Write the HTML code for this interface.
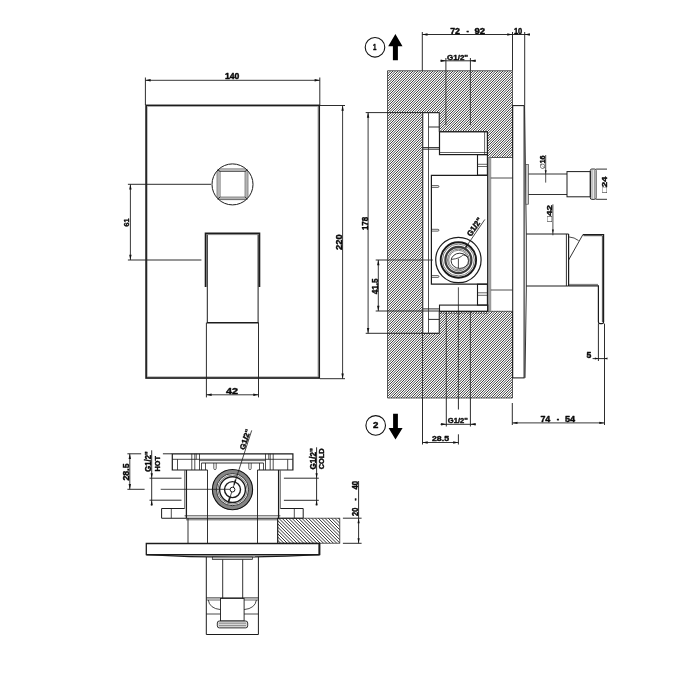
<!DOCTYPE html>
<html><head><meta charset="utf-8"><title>Technical drawing</title>
<style>
html,body{margin:0;padding:0;background:#fff;}
svg{display:block;}
svg{will-change:transform;}
text{font-family:"Liberation Sans",sans-serif;font-weight:bold;fill:#0a0a0a;stroke:#0a0a0a;stroke-width:0.42px;stroke-linejoin:round;}
</style></head><body>
<svg width="700" height="700" viewBox="0 0 700 700">
<defs>
<pattern id="h1" width="4" height="1.8" patternUnits="userSpaceOnUse" patternTransform="rotate(-45)"><rect x="0" y="0" width="4" height="0.85" fill="#2a2a2a"/></pattern>
<pattern id="h2" width="4" height="1.9" patternUnits="userSpaceOnUse" patternTransform="rotate(45)"><rect x="0" y="0" width="4" height="0.85" fill="#2a2a2a"/></pattern>
</defs>
<rect width="700" height="700" fill="#fff"/>
<rect x="146.1" y="105.4" width="173.1" height="272.6" stroke="#1c1c1c" stroke-width="1.7" fill="none" />
<rect x="147.4" y="106.7" width="170.49999999999997" height="270.0" stroke="#9a9a9a" stroke-width="0.6" fill="none" />
<line x1="145.4" y1="77.5" x2="145.4" y2="105" stroke="#222222" stroke-width="0.95" />
<line x1="319.8" y1="77.5" x2="319.8" y2="105" stroke="#222222" stroke-width="0.95" />
<line x1="145.4" y1="80.3" x2="319.8" y2="80.3" stroke="#222222" stroke-width="0.9" />
<polygon points="145.40,80.30 150.60,79.10 150.60,81.50" fill="#111"/>
<polygon points="319.80,80.30 314.60,79.10 314.60,81.50" fill="#111"/>
<text x="232.2" y="79.3" font-size="8.2" text-anchor="middle" textLength="14.4" lengthAdjust="spacingAndGlyphs">140</text>
<line x1="320" y1="105.5" x2="345" y2="105.5" stroke="#222222" stroke-width="0.95" />
<line x1="320" y1="378.7" x2="345" y2="378.7" stroke="#222222" stroke-width="0.95" />
<line x1="342.6" y1="105.5" x2="342.6" y2="378.7" stroke="#222222" stroke-width="0.9" />
<polygon points="342.60,105.50 341.40,110.70 343.80,110.70" fill="#111"/>
<polygon points="342.60,378.70 341.40,373.50 343.80,373.50" fill="#111"/>
<text x="342.1" y="242.2" font-size="9" text-anchor="middle" textLength="15.6" lengthAdjust="spacingAndGlyphs" transform="rotate(-90 342.1 242.2)">220</text>
<circle cx="232.5" cy="184.4" r="20.5" stroke="#1c1c1c" stroke-width="1.0" fill="none"/>
<clipPath id="cc"><circle cx="232.5" cy="184.4" r="20.5"/></clipPath>
<rect x="217.1" y="169" width="30.80000000000001" height="30.69999999999999" stroke="#333" stroke-width="0.75" fill="none" clip-path="url(#cc)"/>
<rect x="218.6" y="170.4" width="27.80000000000001" height="27.900000000000006" stroke="#777" stroke-width="0.55" fill="none" />
<rect x="220" y="171.5" width="25.099999999999994" height="25.599999999999994" stroke="#333" stroke-width="0.75" fill="none" />
<line x1="217.6" y1="169.5" x2="220" y2="171.5" stroke="#1c1c1c" stroke-width="0.9" />
<line x1="247.4" y1="169.5" x2="245.1" y2="171.5" stroke="#1c1c1c" stroke-width="0.9" />
<line x1="217.6" y1="199.2" x2="220" y2="197.1" stroke="#1c1c1c" stroke-width="0.9" />
<line x1="247.4" y1="199.2" x2="245.1" y2="197.1" stroke="#1c1c1c" stroke-width="0.9" />
<line x1="127.9" y1="184.3" x2="211" y2="184.3" stroke="#222222" stroke-width="0.95" />
<line x1="127.9" y1="260" x2="201.4" y2="260" stroke="#222222" stroke-width="0.95" />
<line x1="130.4" y1="184.3" x2="130.4" y2="260" stroke="#222222" stroke-width="0.9" />
<polygon points="130.40,184.30 129.20,189.50 131.60,189.50" fill="#111"/>
<polygon points="130.40,260.00 129.20,254.80 131.60,254.80" fill="#111"/>
<text x="129.3" y="222.5" font-size="8" text-anchor="middle" textLength="8" lengthAdjust="spacingAndGlyphs" transform="rotate(-90 129.3 222.5)">61</text>
<path d="M205.6,287 V233.3 H259.4 V287" stroke="#1c1c1c" stroke-width="1.8" fill="none" />
<path d="M207.3,234.6 V322.7 M258.1,322.7 V234.6" stroke="#1c1c1c" stroke-width="1.0" fill="none" />
<line x1="206.8" y1="322.7" x2="258.6" y2="322.7" stroke="#1c1c1c" stroke-width="1.5" />
<line x1="206" y1="234.6" x2="259" y2="234.6" stroke="#777" stroke-width="0.8" />
<line x1="206.4" y1="322.7" x2="206.4" y2="397.4" stroke="#222222" stroke-width="0.95" />
<line x1="258.5" y1="322.7" x2="258.5" y2="397.4" stroke="#222222" stroke-width="0.95" />
<line x1="206.4" y1="394.8" x2="258.5" y2="394.8" stroke="#222222" stroke-width="0.9" />
<polygon points="206.40,394.80 211.60,393.60 211.60,396.00" fill="#111"/>
<polygon points="258.50,394.80 253.30,393.60 253.30,396.00" fill="#111"/>
<text x="232.1" y="393.9" font-size="8.4" text-anchor="middle" textLength="12" lengthAdjust="spacingAndGlyphs">42</text>
<clipPath id="cw"><path d="M387.5,70.75 H512.5 V157.5 H487.6 V131.6 H439.3 V112.7 H422.7 V333.3 H439.3 V311.3 H512.5 V398 H387.5 Z"/></clipPath>
<path d="M59.00,400L390.00,69M61.50,400L392.50,69M64.00,400L395.00,69M66.50,400L397.50,69M69.00,400L400.00,69M71.50,400L402.50,69M74.00,400L405.00,69M76.50,400L407.50,69M79.00,400L410.00,69M81.50,400L412.50,69M84.00,400L415.00,69M86.50,400L417.50,69M89.00,400L420.00,69M91.50,400L422.50,69M94.00,400L425.00,69M96.50,400L427.50,69M99.00,400L430.00,69M101.50,400L432.50,69M104.00,400L435.00,69M106.50,400L437.50,69M109.00,400L440.00,69M111.50,400L442.50,69M114.00,400L445.00,69M116.50,400L447.50,69M119.00,400L450.00,69M121.50,400L452.50,69M124.00,400L455.00,69M126.50,400L457.50,69M129.00,400L460.00,69M131.50,400L462.50,69M134.00,400L465.00,69M136.50,400L467.50,69M139.00,400L470.00,69M141.50,400L472.50,69M144.00,400L475.00,69M146.50,400L477.50,69M149.00,400L480.00,69M151.50,400L482.50,69M154.00,400L485.00,69M156.50,400L487.50,69M159.00,400L490.00,69M161.50,400L492.50,69M164.00,400L495.00,69M166.50,400L497.50,69M169.00,400L500.00,69M171.50,400L502.50,69M174.00,400L505.00,69M176.50,400L507.50,69M179.00,400L510.00,69M181.50,400L512.50,69M184.00,400L515.00,69M186.50,400L517.50,69M189.00,400L520.00,69M191.50,400L522.50,69M194.00,400L525.00,69M196.50,400L527.50,69M199.00,400L530.00,69M201.50,400L532.50,69M204.00,400L535.00,69M206.50,400L537.50,69M209.00,400L540.00,69M211.50,400L542.50,69M214.00,400L545.00,69M216.50,400L547.50,69M219.00,400L550.00,69M221.50,400L552.50,69M224.00,400L555.00,69M226.50,400L557.50,69M229.00,400L560.00,69M231.50,400L562.50,69M234.00,400L565.00,69M236.50,400L567.50,69M239.00,400L570.00,69M241.50,400L572.50,69M244.00,400L575.00,69M246.50,400L577.50,69M249.00,400L580.00,69M251.50,400L582.50,69M254.00,400L585.00,69M256.50,400L587.50,69M259.00,400L590.00,69M261.50,400L592.50,69M264.00,400L595.00,69M266.50,400L597.50,69M269.00,400L600.00,69M271.50,400L602.50,69M274.00,400L605.00,69M276.50,400L607.50,69M279.00,400L610.00,69M281.50,400L612.50,69M284.00,400L615.00,69M286.50,400L617.50,69M289.00,400L620.00,69M291.50,400L622.50,69M294.00,400L625.00,69M296.50,400L627.50,69M299.00,400L630.00,69M301.50,400L632.50,69M304.00,400L635.00,69M306.50,400L637.50,69M309.00,400L640.00,69M311.50,400L642.50,69M314.00,400L645.00,69M316.50,400L647.50,69M319.00,400L650.00,69M321.50,400L652.50,69M324.00,400L655.00,69M326.50,400L657.50,69M329.00,400L660.00,69M331.50,400L662.50,69M334.00,400L665.00,69M336.50,400L667.50,69M339.00,400L670.00,69M341.50,400L672.50,69M344.00,400L675.00,69M346.50,400L677.50,69M349.00,400L680.00,69M351.50,400L682.50,69M354.00,400L685.00,69M356.50,400L687.50,69M359.00,400L690.00,69M361.50,400L692.50,69M364.00,400L695.00,69M366.50,400L697.50,69M369.00,400L700.00,69M371.50,400L702.50,69M374.00,400L705.00,69M376.50,400L707.50,69M379.00,400L710.00,69M381.50,400L712.50,69M384.00,400L715.00,69M386.50,400L717.50,69M389.00,400L720.00,69M391.50,400L722.50,69M394.00,400L725.00,69M396.50,400L727.50,69M399.00,400L730.00,69M401.50,400L732.50,69M404.00,400L735.00,69M406.50,400L737.50,69M409.00,400L740.00,69M411.50,400L742.50,69M414.00,400L745.00,69M416.50,400L747.50,69M419.00,400L750.00,69M421.50,400L752.50,69M424.00,400L755.00,69M426.50,400L757.50,69M429.00,400L760.00,69M431.50,400L762.50,69M434.00,400L765.00,69M436.50,400L767.50,69M439.00,400L770.00,69M441.50,400L772.50,69M444.00,400L775.00,69M446.50,400L777.50,69M449.00,400L780.00,69M451.50,400L782.50,69M454.00,400L785.00,69M456.50,400L787.50,69M459.00,400L790.00,69M461.50,400L792.50,69M464.00,400L795.00,69M466.50,400L797.50,69M469.00,400L800.00,69M471.50,400L802.50,69M474.00,400L805.00,69M476.50,400L807.50,69M479.00,400L810.00,69M481.50,400L812.50,69M484.00,400L815.00,69M486.50,400L817.50,69M489.00,400L820.00,69M491.50,400L822.50,69M494.00,400L825.00,69M496.50,400L827.50,69M499.00,400L830.00,69M501.50,400L832.50,69M504.00,400L835.00,69M506.50,400L837.50,69M509.00,400L840.00,69M511.50,400L842.50,69" stroke="#101010" stroke-width="0.82" fill="none" clip-path="url(#cw)"/>
<path d="M387.5,70.75 H512.5 V157.5 H487.6 V131.6 H439.3 V112.7 H422.7 V333.3 H439.3 V311.3 H512.5 V398 H387.5 Z" fill="none" stroke="#333" stroke-width="0.8"/>
<circle cx="375" cy="47.3" r="9.8" stroke="#111" stroke-width="1.1" fill="none"/>
<text x="374.6" y="50.2" font-size="8.2" text-anchor="middle" textLength="3.4" lengthAdjust="spacingAndGlyphs">1</text>
<polygon points="395.4,34 402.5,46.3 397.9,46.3 397.9,60.2 392.9,60.2 392.9,46.3 388.2,46.3" fill="#000"/>
<circle cx="375.7" cy="425.4" r="9.8" stroke="#111" stroke-width="1.1" fill="none"/>
<text x="375.7" y="428.3" font-size="8.2" text-anchor="middle" textLength="5.4" lengthAdjust="spacingAndGlyphs">2</text>
<polygon points="395.5,439.6 402.6,428 397.9,428 397.9,413.7 393.1,413.7 393.1,428 388.6,428" fill="#000"/>
<line x1="422.3" y1="32" x2="422.3" y2="70.75" stroke="#222222" stroke-width="0.95" />
<line x1="512.5" y1="32" x2="512.5" y2="70.75" stroke="#222222" stroke-width="0.95" />
<line x1="524.7" y1="32" x2="524.7" y2="105.5" stroke="#222222" stroke-width="0.95" />
<line x1="422.3" y1="34.5" x2="529.8" y2="34.5" stroke="#222222" stroke-width="0.95" />
<polygon points="422.30,34.50 427.50,33.30 427.50,35.70" fill="#111"/>
<polygon points="512.50,34.50 507.30,33.30 507.30,35.70" fill="#111"/>
<polygon points="524.70,34.50 529.90,33.30 529.90,35.70" fill="#111"/>
<text y="33.8" font-size="8.8" text-anchor="start" xml:space="preserve"><tspan x="450.2" textLength="12.2" lengthAdjust="spacingAndGlyphs">72 </tspan><tspan x="466.6" textLength="4.4" lengthAdjust="spacingAndGlyphs">- </tspan><tspan x="474.4" textLength="10.6" lengthAdjust="spacingAndGlyphs">92</tspan></text>
<text x="518.1" y="33.7" font-size="8.6" text-anchor="middle" textLength="8.4" lengthAdjust="spacingAndGlyphs">10</text>
<line x1="440.4" y1="60.8" x2="475.9" y2="60.8" stroke="#222222" stroke-width="0.95" />
<polygon points="445.90,60.80 440.70,59.60 440.70,62.00" fill="#111"/>
<polygon points="470.40,60.80 475.60,59.60 475.60,62.00" fill="#111"/>
<line x1="445.9" y1="58" x2="445.9" y2="70.75" stroke="#222222" stroke-width="0.95" />
<line x1="470.4" y1="58" x2="470.4" y2="70.75" stroke="#222222" stroke-width="0.95" />
<line x1="445.9" y1="70.75" x2="445.9" y2="125" stroke="#222" stroke-width="0.8" />
<line x1="470.4" y1="70.75" x2="470.4" y2="125" stroke="#222" stroke-width="0.8" />
<text x="457.6" y="59.6" font-size="8" text-anchor="middle" textLength="21" lengthAdjust="spacingAndGlyphs">G1/2"</text>
<line x1="365.7" y1="112.6" x2="439.3" y2="112.6" stroke="#222222" stroke-width="0.95" />
<line x1="365.7" y1="333.3" x2="439.3" y2="333.3" stroke="#222222" stroke-width="0.95" />
<line x1="368.1" y1="112.6" x2="368.1" y2="333.3" stroke="#222222" stroke-width="0.9" />
<polygon points="368.10,112.60 366.90,117.80 369.30,117.80" fill="#111"/>
<polygon points="368.10,333.30 366.90,328.10 369.30,328.10" fill="#111"/>
<text x="367.6" y="223.5" font-size="9" text-anchor="middle" textLength="13.2" lengthAdjust="spacingAndGlyphs" transform="rotate(-90 367.6 223.5)">178</text>
<line x1="375.7" y1="260" x2="387.5" y2="260" stroke="#222222" stroke-width="0.95" />
<line x1="387.5" y1="260" x2="432.9" y2="260" stroke="#222" stroke-width="0.8" />
<line x1="375.7" y1="311" x2="439.3" y2="311" stroke="#222222" stroke-width="0.95" />
<line x1="378.3" y1="260" x2="378.3" y2="311" stroke="#222222" stroke-width="0.9" />
<polygon points="378.30,260.00 377.10,265.20 379.50,265.20" fill="#111"/>
<polygon points="378.30,311.00 377.10,305.80 379.50,305.80" fill="#111"/>
<text x="377.7" y="286.3" font-size="9" text-anchor="middle" textLength="16" lengthAdjust="spacingAndGlyphs" transform="rotate(-90 377.7 286.3)">41.5</text>
<path d="M422.7,112.7 V333.3 M428.5,112.7 V333.3 M439.3,112.7 V131.6 M439.3,311.3 V333.3" stroke="#333" stroke-width="0.85" fill="none" />
<line x1="428.5" y1="127" x2="439.3" y2="127" stroke="#222222" stroke-width="0.95" />
<line x1="422.7" y1="147.6" x2="439.3" y2="147.6" stroke="#222222" stroke-width="0.95" />
<line x1="422.7" y1="149.2" x2="439.3" y2="149.2" stroke="#222222" stroke-width="0.95" />
<line x1="422.7" y1="308.9" x2="439.3" y2="308.9" stroke="#222222" stroke-width="0.95" />
<line x1="428.5" y1="319.4" x2="439.3" y2="319.4" stroke="#222222" stroke-width="0.95" />
<rect x="439.5" y="131.8" width="47.89999999999998" height="22.799999999999983" stroke="#1c1c1c" stroke-width="1.2" fill="none" />
<line x1="484.6" y1="131.8" x2="484.6" y2="154.6" stroke="#222222" stroke-width="0.7" />
<line x1="439.5" y1="152.5" x2="487.4" y2="152.5" stroke="#222222" stroke-width="0.7" />
<rect x="477.5" y="154.6" width="9.899999999999977" height="20.599999999999994" stroke="#1c1c1c" stroke-width="1.1" fill="none" />
<line x1="477.5" y1="164.3" x2="487.4" y2="164.3" stroke="#222222" stroke-width="0.7" />
<line x1="477.5" y1="166.5" x2="487.4" y2="166.5" stroke="#222222" stroke-width="0.7" />
<path d="M487.4,175.3 H431.4 V284.2 H487.4" stroke="#1c1c1c" stroke-width="1.2" fill="none" />
<rect x="487.6" y="157.5" width="3.2" height="153.8" fill="#a2a2a2"/>
<line x1="487.6" y1="157.5" x2="487.6" y2="311.3" stroke="#1c1c1c" stroke-width="1.0" />
<line x1="490.8" y1="157.5" x2="490.8" y2="311.3" stroke="#777" stroke-width="0.6" />
<line x1="490.8" y1="178" x2="512.5" y2="178" stroke="#222222" stroke-width="0.8" />
<line x1="490.8" y1="290" x2="512.5" y2="290" stroke="#222222" stroke-width="0.8" />
<path d="M431.4,185.6 H438 a0.9,0.9 0 0 1 0,1.8 H431.4" stroke="#1c1c1c" stroke-width="0.7" fill="none" />
<path d="M431.4,229.29999999999998 H438 a0.9,0.9 0 0 1 0,1.8 H431.4" stroke="#1c1c1c" stroke-width="0.7" fill="none" />
<path d="M431.4,275.6 H438 a0.9,0.9 0 0 1 0,1.8 H431.4" stroke="#1c1c1c" stroke-width="0.7" fill="none" />
<rect x="477.5" y="284.2" width="9.899999999999977" height="20.900000000000034" stroke="#1c1c1c" stroke-width="1.1" fill="none" />
<line x1="477.5" y1="292.8" x2="487.4" y2="292.8" stroke="#222222" stroke-width="0.7" />
<line x1="477.5" y1="295.3" x2="487.4" y2="295.3" stroke="#222222" stroke-width="0.7" />
<rect x="439.5" y="305.1" width="48.30000000000001" height="6.199999999999989" stroke="#1c1c1c" stroke-width="1.1" fill="none" />
<line x1="458.4" y1="287.3" x2="458.4" y2="311.3" stroke="#222222" stroke-width="0.8" />
<circle cx="458.4" cy="260" r="22.7" stroke="#1c1c1c" stroke-width="1.2" fill="#fff"/>
<circle cx="458.4" cy="260" r="17.7" stroke="#1a1a1a" stroke-width="1.9" fill="none"/>
<circle cx="458.4" cy="260" r="15.9" stroke="#444" stroke-width="0.7" fill="none"/>
<circle cx="458.4" cy="260" r="13" stroke="#3c3c3c" stroke-width="2.3" fill="none"/>
<circle cx="458.4" cy="260" r="10.9" stroke="#444" stroke-width="0.7" fill="none"/>
<circle cx="458.4" cy="260" r="9.7" stroke="#555" stroke-width="0.7" fill="none"/>
<ellipse cx="459.79999999999995" cy="260.8" rx="8.7" ry="7.6" fill="#fff" stroke="#1c1c1c" stroke-width="0.9"/>
<line x1="458.4" y1="258.7" x2="458.4" y2="268.3" stroke="#1c1c1c" stroke-width="0.8" />
<path d="M451.59999999999997,259.4 Q460.4,258.4 463.0,254.8 Q466.4,255.4 468.2,257.5" stroke="#1c1c1c" stroke-width="0.8" fill="none" />
<line x1="465.6" y1="247.6" x2="484.8" y2="219.5" stroke="#1c1c1c" stroke-width="0.8" />
<line x1="465.6" y1="247.6" x2="467.5" y2="244.9" stroke="#1c1c1c" stroke-width="1.6" />
<text x="0" y="0" transform="translate(476.7,228.5) rotate(-55.5)" font-size="8" text-anchor="middle" textLength="20.5" lengthAdjust="spacingAndGlyphs">G1/2"</text>
<line x1="446.3" y1="311.3" x2="446.3" y2="398" stroke="#222" stroke-width="0.8" />
<line x1="458.4" y1="311.3" x2="458.4" y2="398" stroke="#222" stroke-width="0.8" />
<line x1="470.4" y1="311.3" x2="470.4" y2="398" stroke="#222" stroke-width="0.8" />
<line x1="422.5" y1="333.3" x2="422.5" y2="398" stroke="#222" stroke-width="0.8" />
<line x1="440" y1="313.2" x2="487.5" y2="313.2" stroke="#222" stroke-width="0.7" stroke-dasharray="1.6 1.1"/>
<line x1="422.5" y1="398" x2="422.5" y2="444.5" stroke="#222222" stroke-width="0.95" />
<line x1="458.4" y1="398" x2="458.4" y2="409.5" stroke="#222222" stroke-width="0.95" />
<line x1="458.4" y1="434.3" x2="458.4" y2="444.5" stroke="#222222" stroke-width="0.95" />
<line x1="446.3" y1="398" x2="446.3" y2="426.5" stroke="#222222" stroke-width="0.95" />
<line x1="470.4" y1="398" x2="470.4" y2="426.5" stroke="#222222" stroke-width="0.95" />
<line x1="440.5" y1="424.3" x2="475.8" y2="424.3" stroke="#222222" stroke-width="0.95" />
<polygon points="446.30,424.30 441.10,423.10 441.10,425.50" fill="#111"/>
<polygon points="470.40,424.30 475.60,423.10 475.60,425.50" fill="#111"/>
<text x="457.8" y="423" font-size="8" text-anchor="middle" textLength="20" lengthAdjust="spacingAndGlyphs">G1/2"</text>
<line x1="422.5" y1="442.5" x2="458.4" y2="442.5" stroke="#222222" stroke-width="0.9" />
<polygon points="422.50,442.50 427.70,441.30 427.70,443.70" fill="#111"/>
<polygon points="458.40,442.50 453.20,441.30 453.20,443.70" fill="#111"/>
<text x="440.5" y="441.2" font-size="8" text-anchor="middle" textLength="17" lengthAdjust="spacingAndGlyphs">28.5</text>
<rect x="512.7" y="105.6" width="11.399999999999977" height="272.29999999999995" stroke="#1c1c1c" stroke-width="1.05" fill="none" />
<path d="M524.6,105.6 L526.3,235 V290 L525,377.9" stroke="#1c1c1c" stroke-width="0.9" fill="none" />
<rect x="525.8" y="164.6" width="2.7000000000000455" height="39.599999999999994" stroke="#444" stroke-width="0.7" fill="#cfcfcf" />
<line x1="528.5" y1="174" x2="567" y2="174" stroke="#1c1c1c" stroke-width="0.9" />
<line x1="528.5" y1="194.5" x2="567" y2="194.5" stroke="#1c1c1c" stroke-width="0.9" />
<rect x="567" y="171.6" width="23.299999999999955" height="25.200000000000017" stroke="#1c1c1c" stroke-width="1.0" fill="none" />
<path d="M590.3,170.5 Q590.3,169 591.8,169 H594.6 Q596.1,169 596.1,170.5 V197.9 Q596.1,199.4 594.6,199.4 H591.8 Q590.3,199.4 590.3,197.9 Z" stroke="#1c1c1c" stroke-width="0.9" fill="none" />
<line x1="592" y1="169.5" x2="592" y2="199" stroke="#555" stroke-width="0.7" />
<line x1="594.3" y1="169.5" x2="594.3" y2="199" stroke="#555" stroke-width="0.7" />
<line x1="596.1" y1="169.1" x2="607" y2="169.1" stroke="#1c1c1c" stroke-width="0.9" />
<line x1="596.1" y1="199.3" x2="607" y2="199.3" stroke="#1c1c1c" stroke-width="0.9" />
<line x1="545.7" y1="155" x2="545.7" y2="182.6" stroke="#222222" stroke-width="0.8" />
<polygon points="545.70,174.00 544.70,170.20 546.70,170.20" fill="#111"/>
<text x="544.8" y="162.3" font-size="7.5" text-anchor="middle" textLength="13.6" lengthAdjust="spacingAndGlyphs" transform="rotate(-90 544.8 162.3)"><tspan font-weight="normal" stroke-width="0" font-size="6.5">∅</tspan>16</text>
<text x="606.9" y="184.8" font-size="8" text-anchor="middle" textLength="16.6" lengthAdjust="spacingAndGlyphs" transform="rotate(-90 606.9 184.8)"><tspan font-weight="normal" stroke-width="0">□</tspan>24</text>
<line x1="552.9" y1="204.3" x2="552.9" y2="235.3" stroke="#222222" stroke-width="0.8" />
<polygon points="552.90,233.30 551.90,229.50 553.90,229.50" fill="#111"/>
<text x="552" y="213.5" font-size="8" text-anchor="middle" textLength="17" lengthAdjust="spacingAndGlyphs" transform="rotate(-90 552 213.5)"><tspan font-weight="normal" stroke-width="0">□</tspan>42</text>
<path d="M526.3,234 H568.6 M526.3,286 H568.6" stroke="#1c1c1c" stroke-width="1.0" fill="none" />
<line x1="566.4" y1="234" x2="566.4" y2="286" stroke="#1c1c1c" stroke-width="0.9" />
<line x1="568.6" y1="234" x2="568.6" y2="286" stroke="#1c1c1c" stroke-width="1.2" />
<line x1="568.6" y1="260" x2="582.9" y2="234.6" stroke="#1c1c1c" stroke-width="0.9" />
<path d="M582.9,234.6 H603.6 V322 Q603.6,323.6 602,323.6 H600 Q598.4,323.6 598.4,322 V285.8 H568.6" stroke="#1c1c1c" stroke-width="1.2" fill="none" />
<line x1="583.5" y1="235.7" x2="602.5" y2="235.7" stroke="#333" stroke-width="0.9" />
<line x1="602.4" y1="236" x2="602.4" y2="322" stroke="#333" stroke-width="0.9" />
<line x1="569" y1="284.4" x2="598" y2="284.4" stroke="#555" stroke-width="0.8" />
<path d="M568.8,236.9 Q574.5,237.3 578.6,240.6" stroke="#1c1c1c" stroke-width="0.8" fill="none" />
<line x1="598.4" y1="323.6" x2="598.4" y2="361" stroke="#222222" stroke-width="0.95" />
<line x1="604.5" y1="323.6" x2="604.5" y2="425" stroke="#222222" stroke-width="0.95" />
<line x1="592.6" y1="358.6" x2="607" y2="358.6" stroke="#222222" stroke-width="0.95" />
<polygon points="598.40,358.60 594.90,357.60 594.90,359.60" fill="#111"/>
<polygon points="604.50,358.60 607.50,357.60 607.50,359.60" fill="#111"/>
<text x="588.8" y="357.8" font-size="8.6" text-anchor="middle" textLength="4.8" lengthAdjust="spacingAndGlyphs">5</text>
<line x1="512.3" y1="403" x2="512.3" y2="425" stroke="#222222" stroke-width="0.95" />
<line x1="512.3" y1="422.9" x2="604.5" y2="422.9" stroke="#222222" stroke-width="0.9" />
<polygon points="512.30,422.90 517.50,421.70 517.50,424.10" fill="#111"/>
<polygon points="604.50,422.90 599.30,421.70 599.30,424.10" fill="#111"/>
<text y="421.9" font-size="8.8" text-anchor="start" xml:space="preserve"><tspan x="540.4" textLength="12.4" lengthAdjust="spacingAndGlyphs">74 </tspan><tspan x="556.8" textLength="4.4" lengthAdjust="spacingAndGlyphs">- </tspan><tspan x="565" textLength="10.2" lengthAdjust="spacingAndGlyphs">54</tspan></text>
<clipPath id="cb"><rect x="277.6" y="518.2" width="62.2" height="25"/></clipPath>
<path d="M251.10,517L279.10,545M254.40,517L282.40,545M257.70,517L285.70,545M261.00,517L289.00,545M264.30,517L292.30,545M267.60,517L295.60,545M270.90,517L298.90,545M274.20,517L302.20,545M277.50,517L305.50,545M280.80,517L308.80,545M284.10,517L312.10,545M287.40,517L315.40,545M290.70,517L318.70,545M294.00,517L322.00,545M297.30,517L325.30,545M300.60,517L328.60,545M303.90,517L331.90,545M307.20,517L335.20,545M310.50,517L338.50,545M313.80,517L341.80,545M317.10,517L345.10,545M320.40,517L348.40,545M323.70,517L351.70,545M327.00,517L355.00,545M330.30,517L358.30,545M333.60,517L361.60,545M336.90,517L364.90,545" stroke="#161616" stroke-width="0.88" fill="none" clip-path="url(#cb)"/>
<rect x="277.6" y="518.2" width="62.2" height="25" fill="none" stroke="#333" stroke-width="0.8"/>
<path d="M207.5,470 H172.3 V453.8 H292.9 V470 H257.5" stroke="#1c1c1c" stroke-width="1.2" fill="none" />
<line x1="172.3" y1="459.3" x2="292.9" y2="459.3" stroke="#1c1c1c" stroke-width="0.8" />
<line x1="177.5" y1="459.3" x2="177.5" y2="470" stroke="#222222" stroke-width="0.8" />
<line x1="287.7" y1="459.3" x2="287.7" y2="470" stroke="#222222" stroke-width="0.8" />
<line x1="191.8" y1="453.8" x2="191.8" y2="470" stroke="#222222" stroke-width="0.8" />
<line x1="273.2" y1="453.8" x2="273.2" y2="470" stroke="#222222" stroke-width="0.8" />
<line x1="194.8" y1="453.8" x2="194.8" y2="470" stroke="#222222" stroke-width="0.8" />
<line x1="270.2" y1="453.8" x2="270.2" y2="470" stroke="#222222" stroke-width="0.8" />
<line x1="199.5" y1="453.8" x2="199.5" y2="470" stroke="#222222" stroke-width="0.8" />
<line x1="265.5" y1="453.8" x2="265.5" y2="470" stroke="#222222" stroke-width="0.8" />
<line x1="196.3" y1="453.8" x2="196.3" y2="459.3" stroke="#222222" stroke-width="0.7" />
<line x1="268.7" y1="453.8" x2="268.7" y2="459.3" stroke="#222222" stroke-width="0.7" />
<line x1="201.5" y1="463" x2="201.5" y2="470" stroke="#222222" stroke-width="0.8" />
<line x1="263.5" y1="463" x2="263.5" y2="470" stroke="#222222" stroke-width="0.8" />
<line x1="205.5" y1="463" x2="205.5" y2="470" stroke="#222222" stroke-width="0.8" />
<line x1="259.5" y1="463" x2="259.5" y2="470" stroke="#222222" stroke-width="0.8" />
<line x1="199.5" y1="460.6" x2="265.5" y2="460.6" stroke="#222222" stroke-width="0.7" />
<line x1="201.5" y1="463" x2="263.5" y2="463" stroke="#1c1c1c" stroke-width="0.9" />
<path d="M213.8,463 V468.4 a1.2,1.2 0 0 0 2.4,0 V463" stroke="#1c1c1c" stroke-width="0.7" fill="none" />
<path d="M248.8,463 V468.4 a1.2,1.2 0 0 0 2.4,0 V463" stroke="#1c1c1c" stroke-width="0.7" fill="none" />
<path d="M186.4,470 V518.2 M278.6,470 V518.2" stroke="#1c1c1c" stroke-width="1.3" fill="none" />
<path d="M184.6,470 V508.5 M280.4,470 V508.5" stroke="#555" stroke-width="0.8" fill="none" />
<line x1="207.5" y1="470" x2="207.5" y2="543.5" stroke="#1c1c1c" stroke-width="0.9" />
<line x1="257.5" y1="470" x2="257.5" y2="543.5" stroke="#1c1c1c" stroke-width="0.9" />
<line x1="184.6" y1="515.8" x2="280.4" y2="515.8" stroke="#222222" stroke-width="0.8" />
<line x1="161.6" y1="518.2" x2="303.2" y2="518.2" stroke="#1c1c1c" stroke-width="1.1" />
<line x1="186" y1="519.8" x2="278" y2="519.8" stroke="#222222" stroke-width="0.7" />
<line x1="188" y1="518.2" x2="188" y2="543.5" stroke="#1c1c1c" stroke-width="0.9" />
<line x1="277.8" y1="518.2" x2="277.8" y2="543.5" stroke="#1c1c1c" stroke-width="0.9" />
<path d="M184.6,508.5 H161.6 V518.2" stroke="#1c1c1c" stroke-width="1.0" fill="none" />
<line x1="171.3" y1="508.5" x2="171.3" y2="518.2" stroke="#222222" stroke-width="0.8" />
<path d="M280.4,508.5 H303.2 V518.2" stroke="#1c1c1c" stroke-width="1.0" fill="none" />
<line x1="294.3" y1="508.5" x2="294.3" y2="518.2" stroke="#222222" stroke-width="0.8" />
<circle cx="232.5" cy="489.6" r="18.1" stroke="#858585" stroke-width="4.2" fill="#fff"/>
<circle cx="232.5" cy="489.6" r="20.1" stroke="#111" stroke-width="1.1" fill="none"/>
<circle cx="232.5" cy="489.6" r="16.1" stroke="#222" stroke-width="0.9" fill="none"/>
<circle cx="232.5" cy="489.6" r="14.6" stroke="#444" stroke-width="0.7" fill="none"/>
<circle cx="232.5" cy="489.6" r="12.9" stroke="#1c1c1c" stroke-width="1.4" fill="none"/>
<circle cx="232.5" cy="489.6" r="8" stroke="#1c1c1c" stroke-width="1.4" fill="none"/>
<line x1="160.7" y1="489.3" x2="232.5" y2="489.3" stroke="#1c1c1c" stroke-width="0.8" />
<line x1="251.7" y1="430.4" x2="228.4" y2="502.4" stroke="#1c1c1c" stroke-width="0.8" />
<line x1="229.9" y1="497.6" x2="228.2" y2="502.6" stroke="#1c1c1c" stroke-width="1.6" />
<line x1="234.1" y1="484.6" x2="235.6" y2="479.8" stroke="#1c1c1c" stroke-width="1.5" />
<circle cx="232.5" cy="489.6" r="2.4" stroke="#1c1c1c" stroke-width="1.0" fill="#fff"/>
<text transform="translate(247.6,440.2) rotate(-72.2)" font-size="7.5" text-anchor="middle" textLength="21" lengthAdjust="spacingAndGlyphs">G1/2"</text>
<line x1="127.4" y1="453.8" x2="141.2" y2="453.8" stroke="#222222" stroke-width="0.95" />
<line x1="162.9" y1="453.8" x2="172" y2="453.8" stroke="#222222" stroke-width="0.95" />
<line x1="127.4" y1="489.3" x2="144.6" y2="489.3" stroke="#222222" stroke-width="0.95" />
<line x1="129.8" y1="453.8" x2="129.8" y2="489.3" stroke="#222222" stroke-width="0.9" />
<polygon points="129.80,453.80 128.60,459.00 131.00,459.00" fill="#111"/>
<polygon points="129.80,489.30 128.60,484.10 131.00,484.10" fill="#111"/>
<text x="128.8" y="472" font-size="8.4" text-anchor="middle" textLength="17" lengthAdjust="spacingAndGlyphs" transform="rotate(-90 128.8 472)">28.5</text>
<text x="150.7" y="461.6" font-size="8.2" text-anchor="middle" textLength="20.4" lengthAdjust="spacingAndGlyphs" transform="rotate(-90 150.7 461.6)">G1/2"</text>
<text x="159.6" y="463.8" font-size="7.5" text-anchor="middle" textLength="15.5" lengthAdjust="spacingAndGlyphs" transform="rotate(-90 159.6 463.8)">HOT</text>
<line x1="151.7" y1="450.3" x2="151.7" y2="505.7" stroke="#222222" stroke-width="0.95" />
<polygon points="151.70,478.20 150.60,473.20 152.80,473.20" fill="#111"/>
<polygon points="151.70,500.20 150.60,505.20 152.80,505.20" fill="#111"/>
<line x1="149.5" y1="478.2" x2="181.5" y2="478.2" stroke="#222222" stroke-width="0.95" />
<line x1="149.5" y1="500.2" x2="181.5" y2="500.2" stroke="#222222" stroke-width="0.95" />
<text x="315.6" y="458.9" font-size="8.2" text-anchor="middle" textLength="21.4" lengthAdjust="spacingAndGlyphs" transform="rotate(-90 315.6 458.9)">G1/2"</text>
<text x="324.2" y="458.8" font-size="7.5" text-anchor="middle" textLength="21" lengthAdjust="spacingAndGlyphs" transform="rotate(-90 324.2 458.8)">COLD</text>
<line x1="316.6" y1="447.3" x2="316.6" y2="505.4" stroke="#222222" stroke-width="0.95" />
<polygon points="316.60,478.20 315.50,473.20 317.70,473.20" fill="#111"/>
<polygon points="316.60,500.30 315.50,505.30 317.70,505.30" fill="#111"/>
<line x1="283.9" y1="478.2" x2="318.8" y2="478.2" stroke="#222222" stroke-width="0.95" />
<line x1="283.9" y1="500.3" x2="318.8" y2="500.3" stroke="#222222" stroke-width="0.95" />
<line x1="342.9" y1="518.2" x2="361.6" y2="518.2" stroke="#222222" stroke-width="0.95" />
<line x1="342.9" y1="543.3" x2="361.6" y2="543.3" stroke="#222222" stroke-width="0.95" />
<line x1="358.6" y1="481" x2="358.6" y2="543.3" stroke="#222222" stroke-width="0.95" />
<polygon points="358.60,518.20 357.50,523.20 359.70,523.20" fill="#111"/>
<polygon points="358.60,543.20 357.50,538.20 359.70,538.20" fill="#111"/>
<text y="0" font-size="8.4" text-anchor="start" xml:space="preserve" transform="translate(358.1 498.2) rotate(-90)"><tspan x="-17.8" textLength="10.4" lengthAdjust="spacingAndGlyphs">20 </tspan><tspan x="-2.2" textLength="4.4" lengthAdjust="spacingAndGlyphs">- </tspan><tspan x="8.8" textLength="8.5" lengthAdjust="spacingAndGlyphs">40</tspan></text>
<path d="M146.3,543.5 H319.6 V554.6 Q232.5,559.6 146.3,554.6 Z" stroke="#1c1c1c" stroke-width="1.3" fill="none" />
<line x1="319.3" y1="543.5" x2="319.3" y2="555" stroke="#1c1c1c" stroke-width="1.8" />
<line x1="146.3" y1="554.8" x2="319.6" y2="554.8" stroke="#1c1c1c" stroke-width="1.4" />
<rect x="212.3" y="557" width="40.19999999999999" height="2.5" stroke="#1c1c1c" stroke-width="0.7" fill="#c8c8c8" />
<path d="M206.3,557 V634.5 H258.4 V557" stroke="#1c1c1c" stroke-width="1.0" fill="none" />
<line x1="222.7" y1="559.5" x2="222.7" y2="598.4" stroke="#1c1c1c" stroke-width="0.9" />
<line x1="242.7" y1="559.5" x2="242.7" y2="598.4" stroke="#1c1c1c" stroke-width="0.9" />
<line x1="206.3" y1="597.9" x2="258.4" y2="597.9" stroke="#1c1c1c" stroke-width="0.9" />
<line x1="206.3" y1="600" x2="220.5" y2="600" stroke="#222222" stroke-width="0.7" />
<line x1="244.1" y1="600" x2="258.4" y2="600" stroke="#222222" stroke-width="0.7" />
<rect x="220.5" y="598.4" width="23.599999999999994" height="22.600000000000023" stroke="#1c1c1c" stroke-width="0.9" fill="none" />
<path d="M208.3,600 Q209.5,608.5 220.5,609.6" stroke="#1c1c1c" stroke-width="0.8" fill="none" />
<path d="M256.4,600 Q255.2,608.5 244.1,609.6" stroke="#1c1c1c" stroke-width="0.8" fill="none" />
<line x1="206.3" y1="614" x2="220.5" y2="614" stroke="#1c1c1c" stroke-width="0.8" />
<line x1="244.1" y1="614" x2="258.4" y2="614" stroke="#1c1c1c" stroke-width="0.8" />
<rect x="217.3" y="621" width="30.4" height="6.9" rx="2" fill="#d9d9d9" stroke="#222" stroke-width="0.9"/>
<line x1="219" y1="623.2" x2="246" y2="623.2" stroke="#555" stroke-width="0.6" />
<line x1="219" y1="625.6" x2="246" y2="625.6" stroke="#555" stroke-width="0.6" />
</svg>
</body></html>
